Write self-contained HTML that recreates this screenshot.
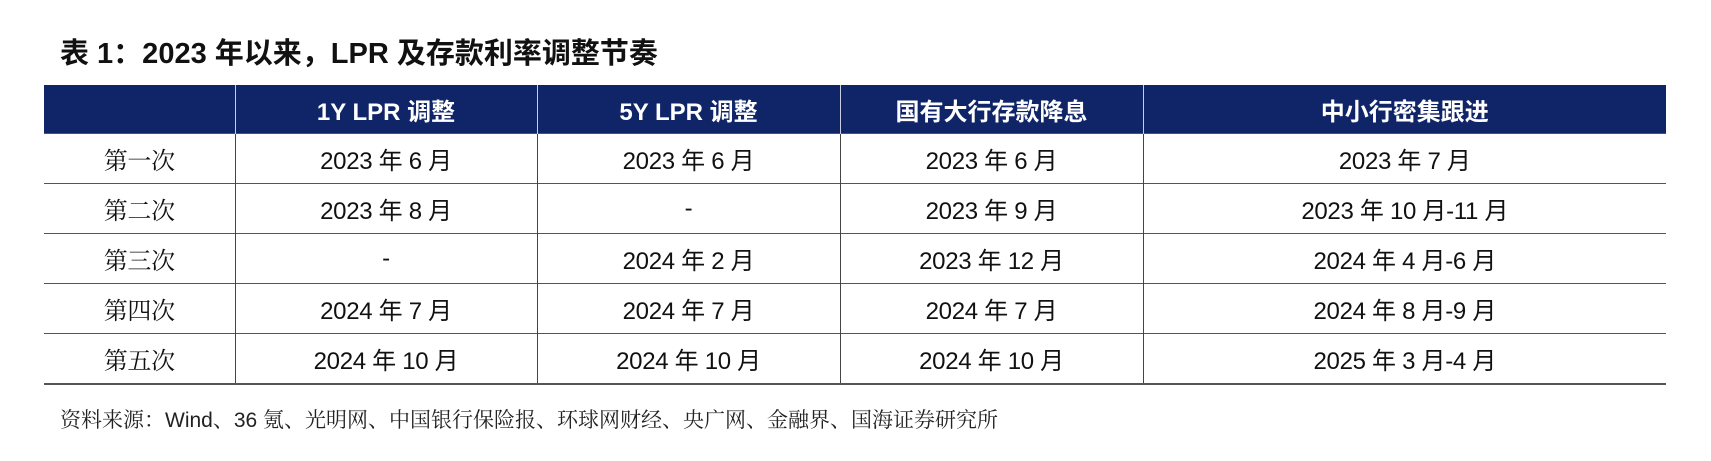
<!DOCTYPE html>
<html><head><meta charset="utf-8"><style>
body{margin:0;width:1711px;height:461px;background:#fff;position:relative;overflow:hidden;font-family:"Liberation Sans","Noto Sans CJK SC",sans-serif;}
.title{position:absolute;left:60px;top:37px;font-size:29px;font-weight:bold;color:#111;line-height:34px;}
table{position:absolute;left:44px;top:85px;width:1622px;border-collapse:collapse;table-layout:fixed;}
th{background:#102568;color:#fff;font-weight:bold;font-size:24px;height:48px;border-left:1px solid #c8cde0;padding:0;}
th:first-child{border-left:none;}
td{height:49px;font-size:24px;color:#111;text-align:center;border-top:1.5px solid #555;border-left:1.5px solid #444;padding:0;letter-spacing:-0.3px;}
td:first-child{border-left:none;font-family:"Noto Serif CJK SC",serif;}
tr:last-child td{border-bottom:2px solid #555;}
.src{position:absolute;left:60px;top:404px;font-size:21px;color:#222;font-family:"Liberation Sans","Noto Serif CJK SC",serif;}
</style></head><body>
<div class="title">表 1：2023 年以来，LPR 及存款利率调整节奏</div>
<table>
<colgroup><col style="width:191px"><col style="width:302px"><col style="width:303px"><col style="width:303px"><col style="width:523px"></colgroup>
<tr><th></th><th>1Y LPR 调整</th><th>5Y LPR 调整</th><th>国有大行存款降息</th><th>中小行密集跟进</th></tr>
<tr><td>第一次</td><td>2023 年 6 月</td><td>2023 年 6 月</td><td>2023 年 6 月</td><td>2023 年 7 月</td></tr>
<tr><td>第二次</td><td>2023 年 8 月</td><td>-</td><td>2023 年 9 月</td><td>2023 年 10 月-11 月</td></tr>
<tr><td>第三次</td><td>-</td><td>2024 年 2 月</td><td>2023 年 12 月</td><td>2024 年 4 月-6 月</td></tr>
<tr><td>第四次</td><td>2024 年 7 月</td><td>2024 年 7 月</td><td>2024 年 7 月</td><td>2024 年 8 月-9 月</td></tr>
<tr><td>第五次</td><td>2024 年 10 月</td><td>2024 年 10 月</td><td>2024 年 10 月</td><td>2025 年 3 月-4 月</td></tr>
</table>
<div class="src">资料来源：Wind、36 氪、光明网、中国银行保险报、环球网财经、央广网、金融界、国海证券研究所</div>
</body></html>
